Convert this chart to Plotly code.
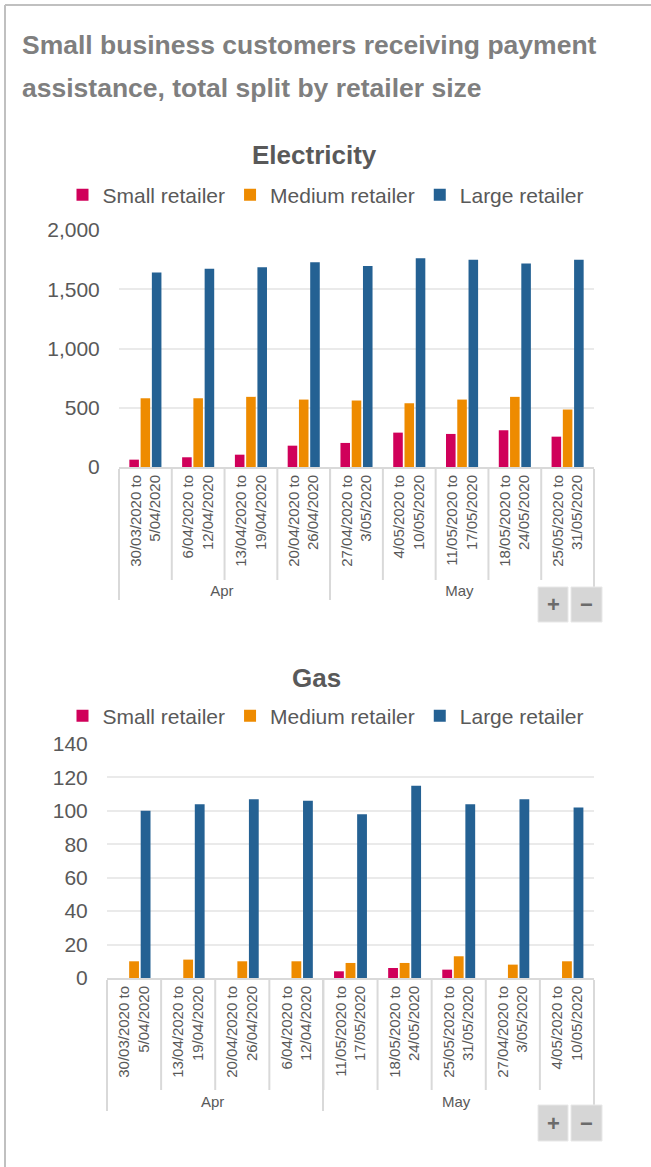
import plotly.graph_objects as go

W, H = 651, 1167

series_names = ["Small retailer", "Medium retailer", "Large retailer"]
series_colors = ["#d0005a", "#ee8b00", "#246193"]

# Electricity
elec_months = ["Apr", "Apr", "Apr", "Apr", "May", "May", "May", "May", "May"]
elec_weeks = [
    "30/03/2020 to<br>5/04/2020",
    "6/04/2020 to<br>12/04/2020",
    "13/04/2020 to<br>19/04/2020",
    "20/04/2020 to<br>26/04/2020",
    "27/04/2020 to<br>3/05/2020",
    "4/05/2020 to<br>10/05/2020",
    "11/05/2020 to<br>17/05/2020",
    "18/05/2020 to<br>24/05/2020",
    "25/05/2020 to<br>31/05/2020",
]
elec_small = [62, 82, 104, 180, 203, 290, 279, 310, 256]
elec_medium = [580, 580, 592, 569, 561, 538, 569, 592, 485]
elec_large = [1642, 1673, 1685, 1727, 1696, 1761, 1749, 1718, 1749]

# Gas
gas_months = ["Apr", "Apr", "Apr", "Apr", "May", "May", "May", "May", "May"]
gas_weeks = [
    "30/03/2020 to<br>5/04/2020",
    "13/04/2020 to<br>19/04/2020",
    "20/04/2020 to<br>26/04/2020",
    "6/04/2020 to<br>12/04/2020",
    "11/05/2020 to<br>17/05/2020",
    "18/05/2020 to<br>24/05/2020",
    "25/05/2020 to<br>31/05/2020",
    "27/04/2020 to<br>3/05/2020",
    "4/05/2020 to<br>10/05/2020",
]
gas_small = [0, 0, 0, 0, 4, 6, 5, 0, 0]
gas_medium = [10, 11, 10, 10, 9, 9, 13, 8, 10]
gas_large = [100, 104, 107, 106, 98, 115, 104, 107, 102]

elec_ticks = [0, 500, 1000, 1500, 2000]
gas_ticks = [0, 20, 40, 60, 80, 100, 120, 140]

FONT = "Liberation Sans, Arial, sans-serif"
TXT = "#595959"
GRID = "#eaeaea"
AX = "#d9d9d9"

fig = go.Figure()
for name, color, vals in zip(series_names, series_colors, [elec_small, elec_medium, elec_large]):
    fig.add_trace(go.Bar(x=[elec_months, elec_weeks], y=vals, name=name, marker_color=color,
                         marker_line_width=0, xaxis="x", yaxis="y", legend="legend"))
for name, color, vals in zip(series_names, series_colors, [gas_small, gas_medium, gas_large]):
    fig.add_trace(go.Bar(x=[gas_months, gas_weeks], y=vals, name=name, marker_color=color,
                         marker_line_width=0, xaxis="x2", yaxis="y2", legend="legend2"))

def py(y):  # pixel from top -> paper
    return 1 - y / H

def px(x):
    return x / W

xcommon = dict(type="multicategory", showline=True, linecolor=AX, linewidth=2, tickangle=-90,
               tickfont=dict(size=15, color=TXT, family=FONT), showdividers=True,
               dividercolor=AX, dividerwidth=2, showgrid=False, automargin=False, ticks="",
               fixedrange=True)
ycommon = dict(showgrid=True, gridcolor=GRID, gridwidth=1.5, zeroline=False, showline=False,
               tickfont=dict(size=21, color=TXT, family=FONT), ticks="outside", ticklen=14,
               tickcolor="rgba(0,0,0,0)", automargin=False, tickformat=",", fixedrange=True)

fig.update_layout(
    width=W, height=H,
    margin=dict(l=0, r=0, t=0, b=0),
    paper_bgcolor="white", plot_bgcolor="white",
    font=dict(family=FONT, color=TXT),
    barmode="group", bargap=0.36, bargroupgap=0.15,
    xaxis=dict(domain=[px(119), px(594)], anchor="y", **xcommon),
    yaxis=dict(domain=[py(467), py(230)], range=[0, 2000], tickvals=elec_ticks, anchor="x", **ycommon),
    xaxis2=dict(domain=[px(107), px(594)], anchor="y2", **xcommon),
    yaxis2=dict(domain=[py(978), py(744)], range=[0, 140], tickvals=gas_ticks, anchor="x2", **ycommon),
    legend=dict(orientation="h", x=px(326), xanchor="center", y=py(195), yanchor="middle",
                font=dict(size=21, color=TXT, family=FONT), bgcolor="rgba(0,0,0,0)"),
    legend2=dict(orientation="h", x=px(326), xanchor="center", y=py(716), yanchor="middle",
                 font=dict(size=21, color=TXT, family=FONT), bgcolor="rgba(0,0,0,0)"),
    showlegend=True,
)

annotations = [
    dict(text="<b>Small business customers receiving payment</b>", x=px(20), y=py(45),
         xanchor="left", yanchor="middle", font=dict(size=26.5, color="#7f7f7f")),
    dict(text="<b>assistance, total split by retailer size</b>", x=px(20), y=py(88),
         xanchor="left", yanchor="middle", font=dict(size=26.5, color="#7f7f7f")),
    dict(text="<b>Electricity</b>", x=px(314), y=py(155), xanchor="center", yanchor="middle",
         font=dict(size=26, color=TXT)),
    dict(text="<b>Gas</b>", x=px(316), y=py(678), xanchor="center", yanchor="middle",
         font=dict(size=26, color=TXT)),
]
for a in annotations:
    a.update(xref="paper", yref="paper", showarrow=False)

shapes = []
# outer frame (top and left edges)
shapes.append(dict(type="line", xref="paper", yref="paper", x0=px(5), x1=1.0, y0=py(5), y1=py(5),
                   line=dict(color="#c0c0c0", width=2)))
shapes.append(dict(type="line", xref="paper", yref="paper", x0=px(5), x1=px(5), y0=py(5), y1=0,
                   line=dict(color="#c0c0c0", width=2)))
# week separators below each axis
for xa, n, y_start, y_end in [("x", len(elec_weeks), 467, 580), ("x2", len(gas_weeks), 978, 1090)]:
    for k in range(1, n):
        shapes.append(dict(type="line", xref=f"{xa} domain", yref="paper", x0=k / n, x1=k / n,
                           y0=py(y_start), y1=py(y_end), line=dict(color=AX, width=2)))
# +/- buttons
for top, bot in [(587, 622), (1105, 1141)]:
    for (l, r, sym) in [(538, 568, "+"), (571, 602, "−")]:
        shapes.append(dict(type="rect", xref="paper", yref="paper", x0=px(l), x1=px(r),
                           y0=py(bot), y1=py(top), fillcolor="#d6d6d6",
                           line=dict(color="#e8e8e8", width=1)))
        annotations.append(dict(text=f"<b>{sym}</b>", x=px((l + r) / 2), y=py((top + bot) / 2),
                                xref="paper", yref="paper", showarrow=False, xanchor="center",
                                yanchor="middle", font=dict(size=22, color="#6b6b6b")))

fig.update_layout(annotations=annotations, shapes=shapes)
fig.write_html("out.html", config={"displayModeBar": False},
               post_script="document.body.style.margin='0';")
